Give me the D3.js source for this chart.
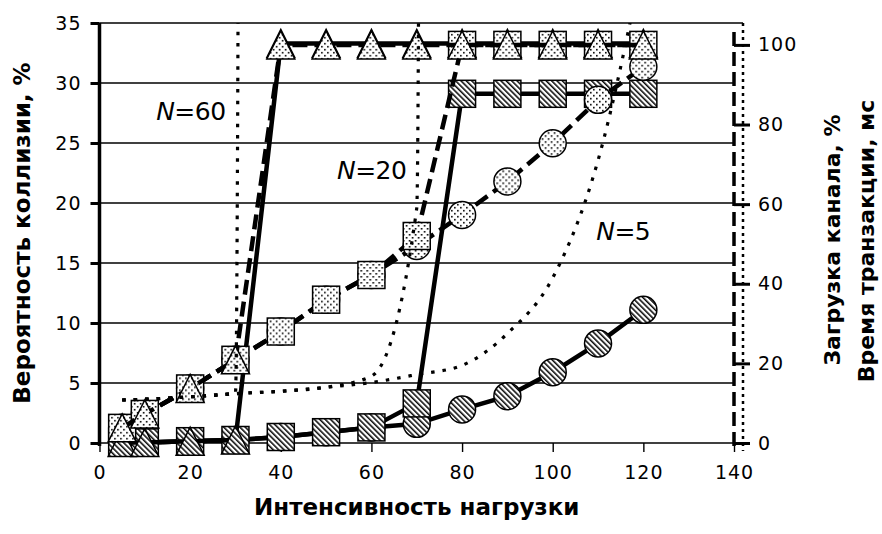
<!DOCTYPE html>
<html>
<head>
<meta charset="utf-8">
<script src="https://cdn.jsdelivr.net/npm/d3@7"></script>
<style>
  body { margin: 0; background: #fff; }
  svg { display: block; }
  text { font-family: "DejaVu Sans", Verdana, sans-serif; fill: #000; }
</style>
</head>
<body>
<svg id="chart" width="882" height="534"></svg>
<script>
// Load intensity (x axis)
const intensity = [5, 10, 20, 30, 40, 50, 60, 70, 80, 90, 100, 110, 120];

// Collision probability, % (left axis)
const collisionN5  = [0.05, 0.05, 0.15, 0.25, 0.5, 0.9, 1.3, 1.6, 2.8, 3.9, 5.9, 8.3, 11.1];
const collisionN20 = [0.05, 0.05, 0.15, 0.25, 0.5, 0.9, 1.3, 3.3, 29.1, 29.1, 29.1, 29.1, 29.1];
const collisionN60 = [0.05, 0.05, 0.15, 0.25, 33.3, 33.3, 33.3, 33.3, 33.3, 33.3, 33.3, 33.3, 33.3];

// Channel load, % (right axis)
const loadN5  = [3.8, 7.3, 13.7, 20.9, 28.0, 36.0, 42.2, 49.5, 57.3, 65.7, 75.3, 86.2, 94.5];
const loadN20 = [3.8, 7.3, 13.7, 20.9, 28.0, 36.0, 42.2, 52.0, 100, 100, 100, 100, 100];
const loadN60 = [3.8, 7.3, 13.7, 20.9, 100, 100, 100, 100, 100, 100, 100, 100, 100];

// Transaction time, ms (right axis); the last value of each run is far off scale
const timeN5  = [10.8, 11.0, 11.6, 12.4, 13.0, 14.0, 15.2, 17.2, 19.5, 27.5, 41.5, 71.0, 122];
const timeN20 = [10.8, 11.0, 11.6, 12.4, 13.0, 14.0, 16.8, 59.0, 20000];
const timeN60 = [10.8, 11.0, 11.6, 12.6, 20000];

// Axis ticks and labels
const xTicks = [0, 20, 40, 60, 80, 100, 120, 140];
const leftTicks = [0, 5, 10, 15, 20, 25, 30, 35];
const rightTicks = [0, 20, 40, 60, 80, 100];
const xTitle = "Интенсивность нагрузки";
const leftTitle = "Вероятность коллизии, %";
const rightTitle1 = "Загрузка канала, %";
const rightTitle2 = "Время транзакции, мс";
const groupNames = ["60", "20", "5"];

const svg = d3.select("#chart");
const x = d3.scaleLinear().domain([0, 140]).range([99.5, 734]);
const yL = d3.scaleLinear().domain([0, 35]).range([443, 23]);
const yR = d3.scaleLinear().domain([0, 105.5]).range([443, 23]);

// Fill patterns: diagonal hatch and dots
const defs = svg.append("defs");
const hatch = defs.append("pattern").attr("id", "hatch")
  .attr("patternUnits", "userSpaceOnUse").attr("width", 3.8).attr("height", 3.8)
  .attr("patternTransform", "rotate(-45)");
hatch.append("rect").attr("width", 3.8).attr("height", 3.8).attr("fill", "#fff");
hatch.append("line").attr("x1", 0.8).attr("y1", 0).attr("x2", 0.8).attr("y2", 3.8)
  .attr("stroke", "#000").attr("stroke-width", 1.5);
const dots = defs.append("pattern").attr("id", "dots")
  .attr("patternUnits", "userSpaceOnUse").attr("width", 6).attr("height", 6);
dots.append("rect").attr("width", 6).attr("height", 6).attr("fill", "#fff");
dots.append("rect").attr("x", 1).attr("y", 1).attr("width", 1.6).attr("height", 1.6).attr("fill", "#000");
dots.append("rect").attr("x", 4).attr("y", 4).attr("width", 1.6).attr("height", 1.6).attr("fill", "#000");
defs.append("clipPath").attr("id", "plotClip").append("rect")
  .attr("x", x(0)).attr("y", yL(35)).attr("width", x(140) - x(0)).attr("height", yL(0) - yL(35));

// Horizontal gridlines
svg.append("g").selectAll("line").data(leftTicks.filter(d => d > 0)).join("line")
  .attr("x1", x(0)).attr("x2", d => d === 35 ? x(140) + 9 : x(140))
  .attr("y1", d => yL(d)).attr("y2", d => yL(d))
  .attr("stroke", "#000").attr("stroke-width", 1.4);

// Bottom axis
const xAxis = svg.append("g").attr("transform", `translate(0,${yL(0)})`)
  .call(d3.axisBottom(x).tickValues(xTicks).tickSize(9).tickPadding(14).tickFormat(d3.format("d")));
xAxis.select(".domain").attr("stroke-width", 1.4).attr("d", `M${x(0)},0H${x(140) + 9}`);
xAxis.selectAll(".tick line").attr("stroke-width", 1.4);
xAxis.selectAll("text").attr("font-size", 19).attr("letter-spacing", 1).attr("fill", "#000");

// Left axis
const lAxis = svg.append("g").attr("transform", `translate(${x(0)},0)`)
  .call(d3.axisLeft(yL).tickValues(leftTicks).tickSize(9).tickPadding(9));
lAxis.select(".domain").attr("stroke-width", 3.5).attr("d", `M0,${yL(35)}V${yL(0) + 3}`);
lAxis.selectAll(".tick line").attr("stroke-width", 3);
lAxis.selectAll("text").attr("font-size", 19).attr("letter-spacing", 1).attr("fill", "#000");

// Right axis
const rAxis = svg.append("g").attr("transform", `translate(${x(140)},0)`)
  .call(d3.axisRight(yR).tickValues(rightTicks).tickSize(16).tickPadding(8));
rAxis.select(".domain").attr("stroke-width", 3.5).attr("stroke-dasharray", "14,6")
  .attr("d", `M0,${yR(0) + 3}V${yL(35) + 5}`);
rAxis.selectAll(".tick line").attr("stroke-width", 3);
rAxis.selectAll("text").attr("font-size", 19).attr("letter-spacing", 1).attr("fill", "#000");
svg.append("line").attr("x1", x(140) + 9).attr("x2", x(140) + 9)
  .attr("y1", yL(35)).attr("y2", yL(0) + 8)
  .attr("stroke", "#000").attr("stroke-width", 2.5).attr("stroke-dasharray", "3,4");

// Marker shapes
const markerShapes = {
  circle: g => g.append("circle").attr("r", 13.5),
  square: g => g.append("rect").attr("x", -13.5).attr("y", -13.5).attr("width", 27).attr("height", 27),
  triangle: g => g.append("path").attr("d", "M0,-14L14,14L-14,14Z")
};

const plot = svg.append("g");

function drawSeries(values, yScale, lineStyle, shape, fill) {
  const pts = values.map((v, i) => [intensity[i], v]);
  const path = plot.append("path").datum(pts)
    .attr("fill", "none").attr("stroke", "#000")
    .attr("d", d3.line().x(d => x(d[0])).y(d => yScale(d[1]))
      .curve(lineStyle === "dotted" ? d3.curveMonotoneX : d3.curveLinear));
  if (lineStyle === "solid") path.attr("stroke-width", 4.5);
  if (lineStyle === "dashed") path.attr("stroke-width", 4.5).attr("stroke-dasharray", "15,7");
  if (lineStyle === "dotted") path.attr("stroke-width", 3.2).attr("stroke-dasharray", "3.5,8")
    .attr("clip-path", "url(#plotClip)");
  if (!shape) return;
  plot.append("g").selectAll("g").data(pts).join("g")
    .attr("transform", d => `translate(${x(d[0])},${yScale(d[1])})`)
    .each(function () {
      markerShapes[shape](d3.select(this))
        .attr("fill", `url(#${fill})`).attr("stroke", "#000").attr("stroke-width", 1.5);
    });
}

// Collision probability (left axis)
drawSeries(collisionN5, yL, "solid", "circle", "hatch");
drawSeries(collisionN20, yL, "solid", "square", "hatch");
drawSeries(collisionN60, yL, "solid", "triangle", "hatch");
// Channel load (right axis)
drawSeries(loadN5, yR, "dashed", "circle", "dots");
drawSeries(loadN20, yR, "dashed", "square", "dots");
drawSeries(loadN60, yR, "dashed", "triangle", "dots");
// Transaction time (right axis)
drawSeries(timeN5, yR, "dotted");
drawSeries(timeN20, yR, "dotted");
drawSeries(timeN60, yR, "dotted");

// Group labels
const labelPos = [[12.5, 26.9], [52.4, 22.0], [109.6, 16.9]];
groupNames.forEach((n, i) => {
  const t = svg.append("text").attr("x", x(labelPos[i][0])).attr("y", yL(labelPos[i][1]))
    .attr("font-size", 25).attr("letter-spacing", -0.5);
  t.append("tspan").attr("font-style", "italic").text("N");
  t.append("tspan").text("=" + n);
});

// Axis titles
svg.append("text").attr("x", (x(0) + x(140)) / 2).attr("y", 507)
  .attr("text-anchor", "middle").attr("dominant-baseline", "central")
  .attr("font-size", 23).attr("font-weight", "bold").text(xTitle);
svg.append("text").attr("transform", `translate(22,${(yL(0) + yL(35)) / 2}) rotate(-90)`)
  .attr("text-anchor", "middle").attr("dominant-baseline", "central")
  .attr("font-size", 23).attr("font-weight", "bold").text(leftTitle);
svg.append("text").attr("transform", "translate(832,240) rotate(-90)")
  .attr("text-anchor", "middle").attr("dominant-baseline", "central")
  .attr("font-size", 22).attr("font-weight", "bold").text(rightTitle1);
svg.append("text").attr("transform", "translate(866,241) rotate(-90)")
  .attr("text-anchor", "middle").attr("dominant-baseline", "central")
  .attr("font-size", 22).attr("font-weight", "bold").text(rightTitle2);
</script>
</body>
</html>
